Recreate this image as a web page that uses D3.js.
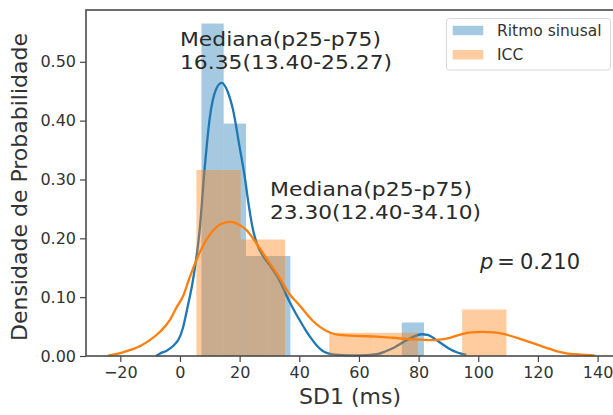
<!DOCTYPE html>
<html>
<head>
<meta charset="utf-8">
<script src="https://cdn.jsdelivr.net/npm/d3@7"></script>
<style>
  html, body { margin: 0; padding: 0; background: #fff; }
  svg { display: block; font-family: "DejaVu Sans", sans-serif; }
</style>
</head>
<body>
<svg id="chart" width="613" height="415"></svg>
<script>
// ---- Data ----
const seriesNames = ["Ritmo sinusal", "ICC"];

// Histogram bin edges (SD1, ms) and densities
const blueEdges = [7.2, 14.66, 22.12, 29.58, 37.04, 44.5, 51.96, 59.42, 66.88, 74.34, 81.8];
const blueDensity = [0.565, 0.395, 0.17, 0.17, 0, 0, 0, 0, 0, 0.057];

const orangeEdges = [5.5, 20.35, 35.2, 50.05, 64.9, 79.75, 94.6, 109.45];
const orangeDensity = [0.316, 0.198, 0, 0.0395, 0.0395, 0, 0.079];

// KDE curves: [x, density]
const blueKde = [[-8,0],[-6.8,0.004],[-4.5,0.009],[-2.3,0.017],[0,0.033],[1,0.048],[2.5,0.082],[4.4,0.13],[6.6,0.214],[8.3,0.32],[10,0.405],[12,0.452],[14,0.464],[16,0.449],[17.8,0.418],[20,0.355],[21.7,0.305],[23,0.258],[24.5,0.214],[26,0.188],[27.8,0.17],[30,0.155],[33.4,0.128],[35.5,0.105],[38,0.08],[40,0.062],[42,0.045],[44,0.03],[46,0.017],[48,0.008],[50,0.004],[53,0.002],[60,0.001],[66,0.003],[69,0.008],[72,0.015],[75,0.024],[78,0.032],[81,0.037],[83,0.036],[86,0.027],[88,0.02],[90.4,0.012],[93,0.006],[96,0.002]];

const orangeKde = [[-24,0.001],[-20,0.005],[-16.8,0.01],[-13,0.018],[-10.1,0.027],[-6.5,0.042],[-3.4,0.061],[-1,0.084],[1,0.101],[3,0.13],[5.5,0.163],[8,0.19],[10,0.206],[13,0.222],[16.7,0.228],[19.5,0.224],[22.3,0.214],[25,0.196],[27.8,0.175],[30.5,0.155],[33.4,0.133],[36.8,0.105],[40.1,0.086],[42.4,0.072],[44.5,0.06],[46.8,0.05],[50.2,0.04],[53.5,0.036],[60.2,0.034],[66,0.033],[71.4,0.031],[76,0.029],[80.3,0.028],[84,0.027],[87,0.028],[90.5,0.031],[93.7,0.036],[97.5,0.04],[101.5,0.041],[105,0.04],[108,0.038],[111,0.034],[114,0.029],[117,0.024],[120.5,0.018],[124,0.012],[127.2,0.007],[130,0.004],[132.8,0.003],[136,0.002],[139,0.001]];

const xTicks = [-20, 0, 20, 40, 60, 80, 100, 120, 140];
const yTicks = [0, 0.1, 0.2, 0.3, 0.4, 0.5];

const annot1 = ["Mediana(p25-p75)", "16.35(13.40-25.27)"];
const annot2 = ["Mediana(p25-p75)", "23.30(12.40-34.10)"];
const pText = "0.210";
const xLabel = "SD1 (ms)";
const yLabel = "Densidade de Probabilidade";

// ---- Layout ----
const svg = d3.select("#chart");
const L = 86, R = 614, T = 10, B = 356;
const x = d3.scaleLinear().domain([-31.5, 145.5]).range([L, R]);
const y = d3.scaleLinear().domain([0, 0.588]).range([B, T]);

const C0 = "#1f77b4", C1 = "#ff7f0e";

function bins(edges, dens) {
  return dens.map((d, i) => ({x0: edges[i], x1: edges[i + 1], d}));
}

function drawHist(data, color) {
  svg.append("g").selectAll("rect").data(data.filter(b => b.d > 0)).join("rect")
    .attr("x", b => x(b.x0))
    .attr("y", b => y(b.d))
    .attr("width", b => x(b.x1) - x(b.x0))
    .attr("height", b => y(0) - y(b.d))
    .attr("fill", color).attr("fill-opacity", 0.4);
}
const line = d3.line().x(d => x(d[0])).y(d => y(d[1])).curve(d3.curveMonotoneX);
function drawKde(pts, color) {
  svg.append("path").datum(pts).attr("d", line)
    .attr("fill", "none").attr("stroke", color).attr("stroke-width", 2.3)
    .attr("stroke-linejoin", "round");
}

drawHist(bins(blueEdges, blueDensity), C0);
drawKde(blueKde, C0);
drawHist(bins(orangeEdges, orangeDensity), C1);
drawKde(orangeKde, C1);

// ---- Axes ----
const xAxis = d3.axisBottom(x).tickValues(xTicks).tickSize(6).tickPadding(5)
  .tickFormat(d => d < 0 ? "\u2212" + Math.abs(d) : String(d));
const gx = svg.append("g").attr("transform", `translate(0,${B})`).call(xAxis);
gx.select(".domain").remove();
gx.selectAll("line").attr("stroke", "#444").attr("stroke-width", 1.2);
gx.selectAll("text").attr("fill", "#333").style("font-size", "16px")
  .style("font-family", "'DejaVu Sans', sans-serif");

const yAxis = d3.axisLeft(y).tickValues(yTicks).tickSize(6).tickPadding(4)
  .tickFormat(d3.format(".2f"));
const gy = svg.append("g").attr("transform", `translate(${L},0)`).call(yAxis);
gy.select(".domain").remove();
gy.selectAll("line").attr("stroke", "#444").attr("stroke-width", 1.2);
gy.selectAll("text").attr("fill", "#333").style("font-size", "16px")
  .style("font-family", "'DejaVu Sans', sans-serif");

// Spines
svg.append("rect").attr("x", L).attr("y", T).attr("width", R - L).attr("height", B - T)
  .attr("fill", "none").attr("stroke", "#4a4a4a").attr("stroke-width", 1.6);

// Axis labels
svg.append("text").attr("x", (L + R) / 2).attr("y", 404).attr("text-anchor", "middle")
  .attr("fill", "#333").style("font-size", "22px").text(xLabel);
svg.append("text").attr("transform", `translate(27,${(T + B) / 2 + 4}) rotate(-90)`)
  .attr("text-anchor", "middle").attr("fill", "#333").style("font-size", "22px").text(yLabel);

// Annotations (two-line text blocks)
function multi(lines, x0, y0, dy, widths) {
  lines.forEach((s, i) => {
    svg.append("text").attr("x", x0).attr("y", y0 + i * dy)
      .attr("fill", "#2a2a2a").style("font-size", "20px")
      .attr("textLength", widths[i]).attr("lengthAdjust", "spacingAndGlyphs")
      .text(s);
  });
}
multi(annot1, 180, 45.5, 23.5, [201, 212]);
multi(annot2, 270, 195.5, 23.5, [202, 211]);

const pt = svg.append("text").attr("x", 480).attr("y", 269).attr("fill", "#2a2a2a").style("font-size", "21px");
pt.append("tspan").style("font-style", "italic").text("p");
pt.append("tspan").attr("dx", 4).text("=");
pt.append("tspan").attr("dx", 5).text(pText);

// Legend
const lg = svg.append("g");
lg.append("rect").attr("x", 446.5).attr("y", 18.5).attr("width", 164).attr("height", 51.5)
  .attr("rx", 3).attr("fill", "#fff").attr("fill-opacity", 0.8)
  .attr("stroke", "#d8d8d8").attr("stroke-width", 1);
[C0, C1].forEach((c, i) => {
  const cy = 30.5 + i * 24.2;
  lg.append("rect").attr("x", 452.7).attr("y", cy - 4.7).attr("width", 30.6).attr("height", 9.4)
    .attr("fill", c).attr("fill-opacity", 0.4);
  lg.append("text").attr("x", 497).attr("y", cy + 5.5).attr("fill", "#333")
    .style("font-size", "15.5px").text(seriesNames[i]);
});
</script>
</body>
</html>
